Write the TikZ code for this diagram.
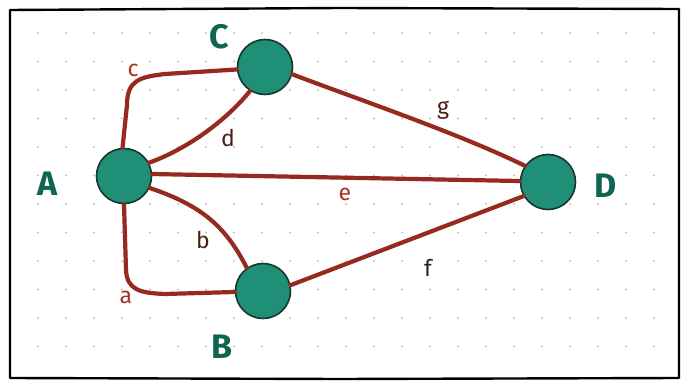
\documentclass[tikz,border=0pt]{standalone}
\usepackage{fontspec}
\setmainfont{Fira Sans}
\definecolor{nodefill}{HTML}{1F8F78}
\definecolor{nodeline}{HTML}{16362F}
\definecolor{edgecol}{HTML}{962A1E}
\definecolor{lblgreen}{HTML}{0E6650}
\definecolor{redlbl}{HTML}{A33424}
\definecolor{darklbl}{HTML}{4A1E16}
\definecolor{dotcol}{HTML}{C4C4C4}
\tikzset{
  vertex/.style={circle, fill=nodefill, draw=nodeline, line width=1.6pt, minimum size=55pt, inner sep=0pt},
  vname/.style={text=lblgreen, font=\fontsize{34}{38}\selectfont\bfseries},
  edge/.style={draw=edgecol, line width=4.2pt, line cap=round},
  elabel/.style={font=\fontsize{23}{26}\selectfont, inner sep=0pt},
}
\begin{document}
\begin{tikzpicture}[x=1pt,y=-1pt]
\useasboundingbox (0,0) rectangle (683,385);
\fill[white] (0,0) rectangle (683,385);
% dotted grid
\foreach \i in {0,...,22} {
  \foreach \j in {0,...,11} {
    \fill[dotcol] ({38+28*\i},{33+28.5*\j}) circle (1.2pt);
  }
}
% border
\draw[line width=2.4pt, line join=round] (10,10) -- (340,8) -- (679,9) -- (679,378) -- (340,379) -- (10,378) -- cycle;

% vertices
\node[vertex] (A) at (124,176) {};
\node[vertex] (C) at (265,67) {};
\node[vertex] (B) at (263,291) {};
\node[vertex] (D) at (548,182) {};

% vertex names
\node[vname] (nA) at (48,184) {A};
\node[vname] (nC) at (219,37) {C};
\node[vname] (nB) at (222,347) {B};
\node[vname] (nD) at (606,186) {D};

% edges
\draw[edge] (A.93) -- (127,105) .. controls (127,80) and (140,77) .. (165,74) -- (C.185);
\draw[edge] (A.28) .. controls (185,150) and (225,122) .. (C.238);
\draw[edge] (A.4) -- (D.178);
\draw[edge] (C.-15) .. controls (360,100) and (460,134) .. (D.145);
\draw[edge] (A.-25) .. controls (200,205) and (225,225) .. (B.125);
\draw[edge] (A.-90) -- (126,270) .. controls (127,290) and (140,293) .. (165,294) -- (B.182);
\draw[edge] (B.12) -- (D.210);

% edge labels
\node[elabel, text=redlbl] (lc) at (133,70) {c};
\node[elabel, text=darklbl] (ld) at (228,138) {d};
\node[elabel, text=redlbl] (le) at (345,194) {e};
\node[elabel, text=darklbl] (lg) at (443,110) {g};
\node[elabel, text=darklbl] (lb) at (203,240) {b};
\node[elabel, text=redlbl] (la) at (126,297) {a};
\node[elabel, text=black!85] (lf) at (428,268) {f};
\end{tikzpicture}
\end{document}
